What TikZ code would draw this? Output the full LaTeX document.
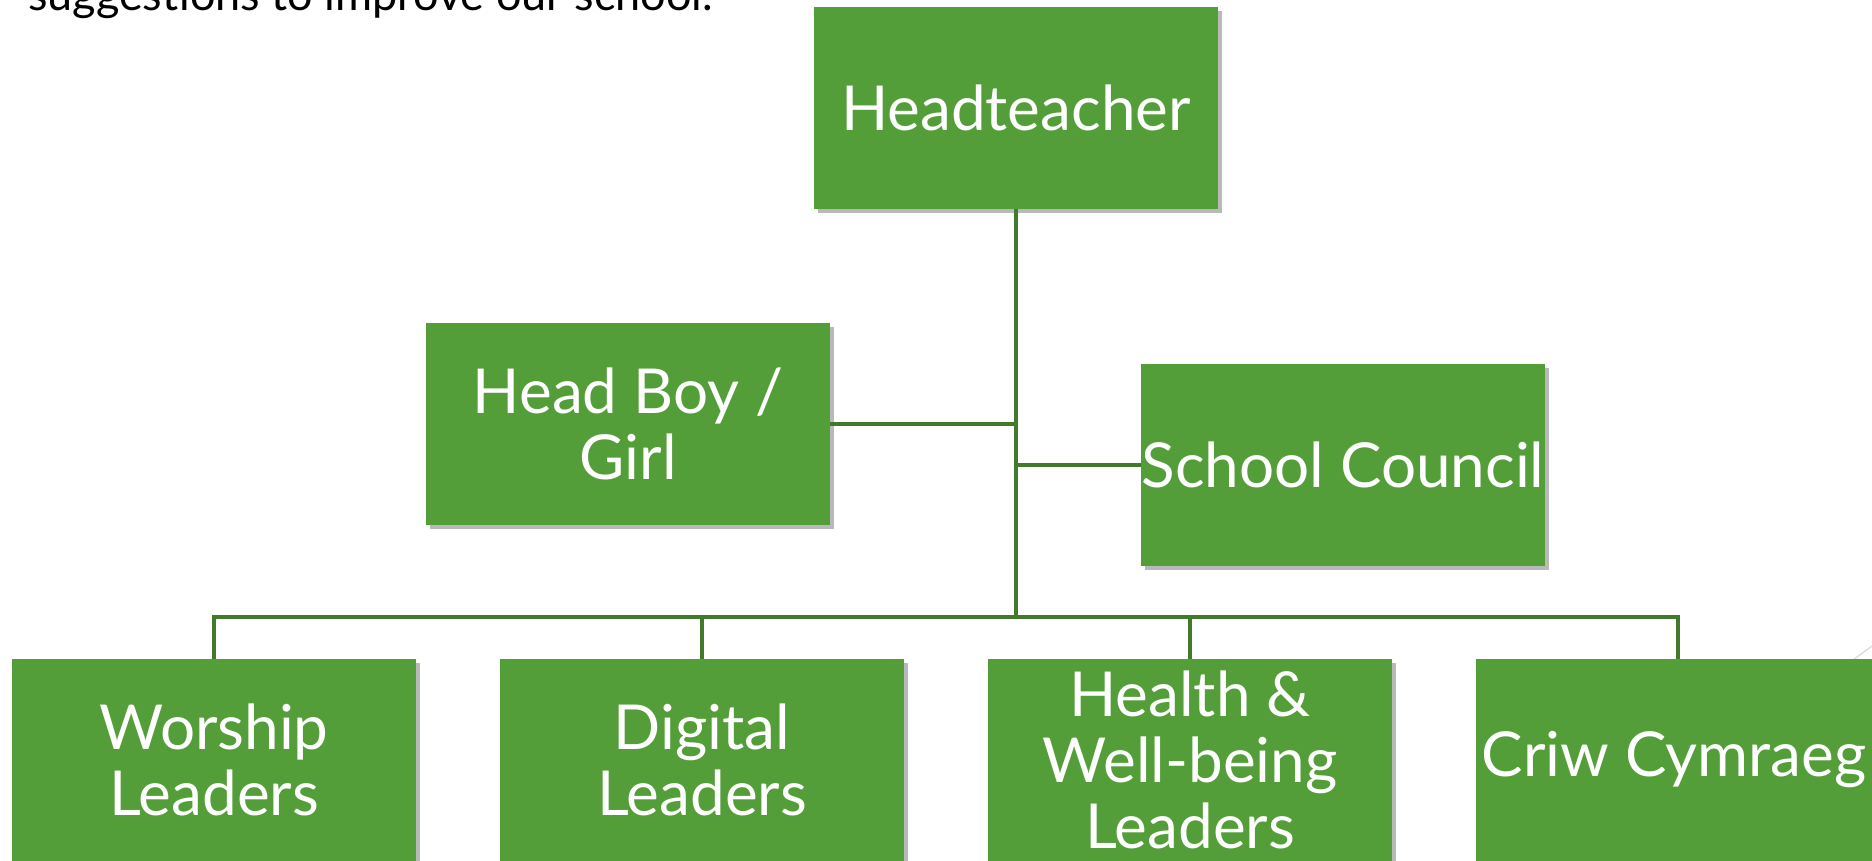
\documentclass[tikz,border=0pt]{standalone}
\usepackage{fontspec}
\setmainfont{Lato}
\usetikzlibrary{shadows}
\definecolor{boxgreen}{RGB}{84,158,57}
\definecolor{linegreen}{RGB}{66,122,44}
\begin{document}
\begin{tikzpicture}[x=1pt,y=-1pt,
  orgbox/.style={rectangle, fill=boxgreen, text=white, minimum width=404pt, minimum height=202pt,
    inner sep=0pt, align=center, font=\fontsize{62}{66}\selectfont,
    drop shadow={shadow xshift=4pt, shadow yshift=-4pt, fill=black!55, opacity=0.5}},
  link/.style={draw=linegreen, line width=3.5pt}]
\useasboundingbox (0,0) rectangle (1872,860);
\node[anchor=base west, inner sep=0pt, font=\fontsize{45}{48}\selectfont] (intro) at (28,10) {suggestions to improve our school.};
\draw[black!15, line width=1.2pt] (1853,660) -- (1872,646);
\node[orgbox] (head) at (1016,108) {Headteacher};
\node[orgbox] (hb) at (628,424) {Head Boy /\\Girl};
\node[orgbox] (sc) at (1343,465) {School Council};
\node[orgbox] (wl) at (214,760) {Worship\\Leaders};
\node[orgbox] (dl) at (702,760) {Digital\\Leaders};
\node[orgbox] (hw) at (1190,760) {Health \&\\Well-being\\Leaders};
\node[orgbox] (cc) at (1678,760) {Criw Cymraeg\hspace*{8pt}};
\coordinate (bus) at (1016,617);
\draw[link] (head.south) -- (bus);
\draw[link] (hb.east) -- (hb.east -| bus);
\draw[link] (sc.west) -- (sc.west -| bus);
\draw[link] (wl.north) -- (wl.north |- bus) -- (cc.north |- bus) -- (cc.north);
\draw[link] (dl.north) -- (dl.north |- bus);
\draw[link] (hw.north) -- (hw.north |- bus);
\end{tikzpicture}
\end{document}
